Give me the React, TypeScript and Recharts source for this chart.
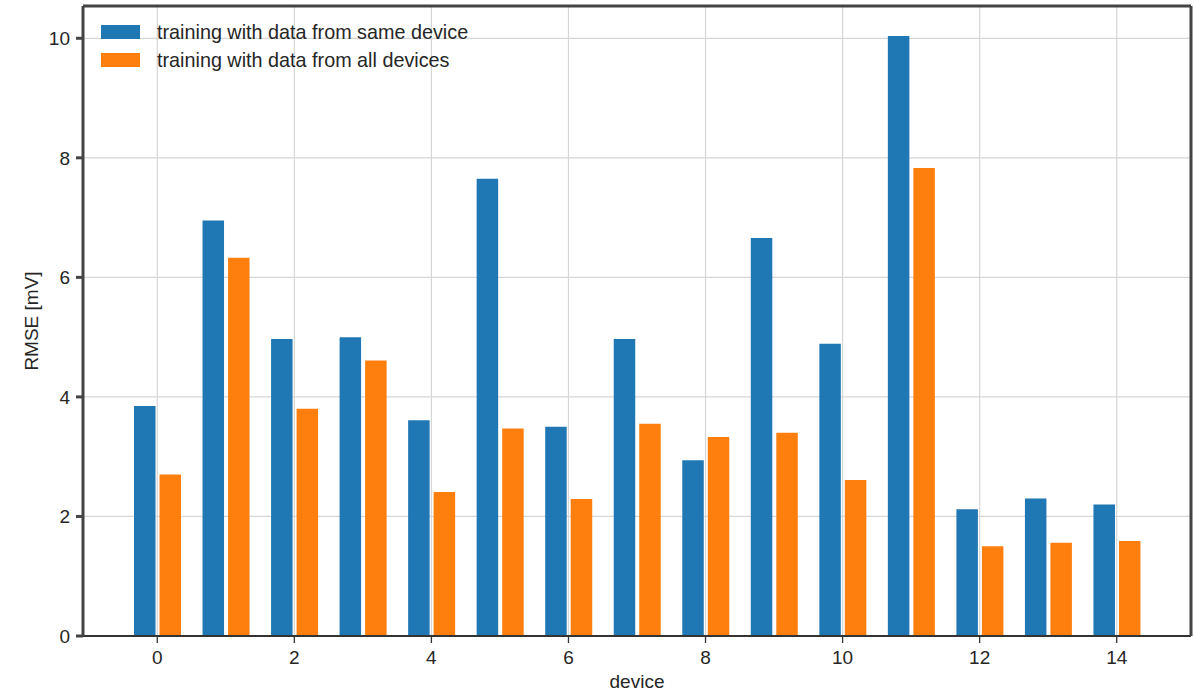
import { Bar, BarChart, CartesianGrid, Label, Legend, XAxis, YAxis } from 'recharts'

const devices = [0, 1, 2, 3, 4, 5, 6, 7, 8, 9, 10, 11, 12, 13, 14]
const sameDeviceRmse = [3.85, 6.95, 4.97, 5.0, 3.61, 7.65, 3.5, 4.97, 2.94, 6.66, 4.89, 10.04, 2.12, 2.3, 2.2]
const allDevicesRmse = [2.7, 6.33, 3.8, 4.61, 2.41, 3.47, 2.29, 3.55, 3.33, 3.4, 2.61, 7.83, 1.5, 1.56, 1.59]
const yTicks = [0, 2, 4, 6, 8, 10]
const seriesKeys = ['same', 'all']

const data = devices.map((device, i) => ({
  device,
  same: sameDeviceRmse[i],
  all: allDevicesRmse[i],
}))

const FONT = '"Liberation Sans", Arial, Helvetica, sans-serif'
const TEXT = '#262626'

interface LegendEntry {
  value?: string
  color?: string
  dataKey?: string
}

function LegendContent({ payload }: { payload?: LegendEntry[] }) {
  // keep the legend in the same order as the bars
  const items = [...(payload ?? [])].sort(
    (a, b) => seriesKeys.indexOf(String(a.dataKey)) - seriesKeys.indexOf(String(b.dataKey)),
  )
  return (
    <div style={{ fontFamily: FONT, fontSize: 19.8, color: TEXT }}>
      {items.map((entry) => (
        <div key={entry.value} style={{ display: 'flex', alignItems: 'center', height: 28 }}>
          <span style={{ width: 39, height: 14, background: entry.color, marginRight: 17 }} />
          <span style={{ whiteSpace: 'nowrap' }}>{entry.value}</span>
        </div>
      ))}
    </div>
  )
}

export default function App() {
  return (
    <div style={{ position: 'absolute', left: 0, top: 0, background: '#fff' }}>
      <BarChart
        width={1194}
        height={692}
        data={data}
        barSize={21.5}
        barGap={4}
        margin={{ top: 5, right: 2, bottom: 0, left: 0 }}
        style={{ fontFamily: FONT }}
      >
        <CartesianGrid stroke="#d6d6d6" strokeWidth={1.2} syncWithTicks />
        <XAxis
          dataKey="device"
          type="category"
          interval={1}
          height={56}
          padding={{ left: 40, right: 40 }}
          axisLine={{ stroke: '#333333', strokeWidth: 1.8 }}
          tickLine={{ stroke: '#333333', strokeWidth: 1.3 }}
          tickSize={7}
          tickMargin={8}
          tick={{ fill: TEXT, fontSize: 19, fontFamily: FONT }}
        >
          <Label value="device" position="insideBottom" offset={4} fill={TEXT} fontSize={19} fontFamily={FONT} />
        </XAxis>
        {/* top and right axes only draw the closing edges of the frame */}
        <XAxis
          xAxisId="frame"
          dataKey="device"
          orientation="top"
          height={1}
          padding={{ left: 40, right: 40 }}
          axisLine={{ stroke: '#444444', strokeWidth: 3 }}
          tick={false}
          tickLine={false}
        />
        <YAxis
          domain={[0, 10.54]}
          ticks={yTicks}
          width={83}
          axisLine={{ stroke: '#444444', strokeWidth: 3 }}
          tickLine={{ stroke: '#444444', strokeWidth: 3 }}
          tickSize={7}
          tickMargin={6}
          tick={{ fill: TEXT, fontSize: 19, fontFamily: FONT }}
        >
          <Label
            value="RMSE [mV]"
            angle={-90}
            position="center"
            dx={-10}
            fill={TEXT}
            fontSize={19}
            fontFamily={FONT}
          />
        </YAxis>
        <YAxis
          yAxisId="frame"
          orientation="right"
          width={1}
          domain={[0, 10.54]}
          axisLine={{ stroke: '#444444', strokeWidth: 3 }}
          tick={false}
          tickLine={false}
        />
        <Legend
          layout="vertical"
          align="center"
          verticalAlign="middle"
          content={<LegendContent />}
          wrapperStyle={{ top: 18, left: 101, width: 'auto', height: 'auto' }}
        />
        <Bar dataKey="same" name="training with data from same device" fill="#1f77b4" isAnimationActive={false} />
        <Bar dataKey="all" name="training with data from all devices" fill="#ff7f0e" isAnimationActive={false} />
      </BarChart>
    </div>
  )
}
